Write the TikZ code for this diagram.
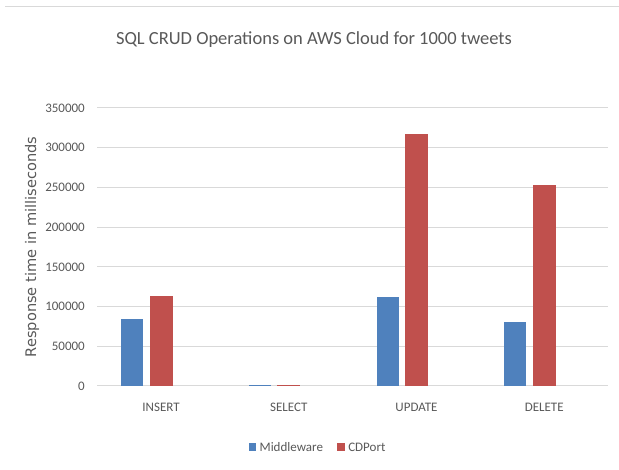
\documentclass[tikz,border=0pt]{standalone}
\usepackage{fontspec}
\setmainfont{Carlito}
\newfontfamily\ylabelfont{DejaVu Sans}
\usepackage{tikz}
\usetikzlibrary{positioning}
\definecolor{mwblue}{HTML}{4F81BD}
\definecolor{cdred}{HTML}{C0504D}
\definecolor{gridgray}{HTML}{D9D9D9}
\definecolor{textgray}{HTML}{595959}
\tikzset{
x=1pt, y=-1pt, % one unit is one pixel of the chart, y runs downwards
grid line/.style={draw=gridgray, line width=1pt}, % the horizontal value lines
tick label/.style={text=textgray, font=\fontsize{13}{13}\selectfont, anchor=east, inner sep=0pt}, % numbers on the value axis
cat label/.style={text=textgray, font=\fontsize{13}{13}\selectfont, inner sep=0pt}, % names under the groups
key box/.style={minimum size=7.5pt, inner sep=0pt}, % the little squares of the legend
key text/.style={text=textgray, font=\fontsize{13}{13}\selectfont, inner sep=0pt}, % the legend words
}

\begin{document}
\begin{tikzpicture}

    \useasboundingbox (0,0) rectangle (619,470);
    \fill[white] (0,0) rectangle (619,470);

    % frame edge at the top
    \coordinate (frameL) at (5,7);
    \coordinate (frameR) at (619,7);
    \draw[grid line] (frameL) -- (frameR);

    \node[text=textgray, font=\fontsize{18.5}{18.5}\selectfont] (title) at (314,40) {SQL CRUD Operations on AWS Cloud for 1000 tweets};

    % value lines and their numbers
    \foreach \k/\v in {0/0, 1/50000, 2/100000, 3/150000, 4/200000, 5/250000, 6/300000, 7/350000} {
        \coordinate (gl-\k) at (97,{386-\k*39.714});
        \coordinate (gr-\k) at (608,{386-\k*39.714});
        \draw[grid line] (gl-\k) -- (gr-\k);
        \node[tick label] (tick-\k) at (85,{386-\k*39.714}) {\v};
    }

    \node[text=textgray, rotate=90, font=\ylabelfont\fontsize{14.6}{14.6}\selectfont] (ytitle) at (32,247) {Response time in milliseconds};

    % bars, values in thousands
    \foreach \cx/\mw/\cd/\op in {161/84/113/INSERT, 288.75/1.8/1.8/SELECT, 416.5/111.5/317/UPDATE, 544.25/80/252.5/DELETE} {
        \fill[mwblue] ({\cx-40},386) rectangle ({\cx-18},{386-\mw*0.79429});
        \fill[cdred] ({\cx-11.5},386) rectangle ({\cx+11.5},{386-\cd*0.79429});
        \node[cat label] (cat-\op) at (\cx,407) {\op};
    }

    % legend
    \node[key box, fill=mwblue] (mwkey) at (252.5,447) {};
    \node[key text, right=3pt of mwkey] (mwtext) {Middleware};
    \node[key box, fill=cdred, right=14pt of mwtext] (cdkey) {};
    \node[key text, right=3pt of cdkey] (cdtext) {CDPort};

\end{tikzpicture}
\end{document}
